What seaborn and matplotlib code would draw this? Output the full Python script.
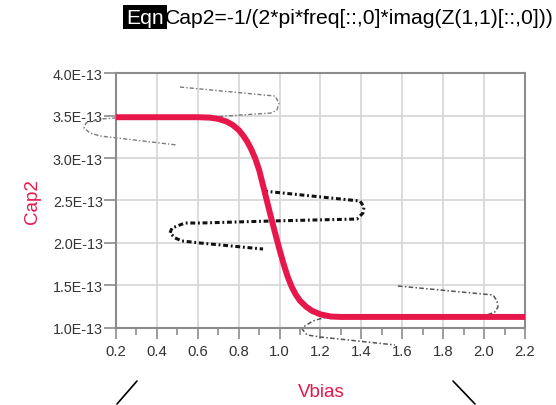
import matplotlib
matplotlib.use("Agg")
import matplotlib.pyplot as plt
from matplotlib.lines import Line2D
from matplotlib.ticker import FixedLocator, FuncFormatter
import numpy as np
import pandas as pd
import seaborn as sns

# ---------------- data (capacitance in units of 1E-13 F) ----------------
vbias = [0.2, 0.3, 0.4, 0.5, 0.6, 0.66, 0.7, 0.74, 0.77, 0.8, 0.82, 0.84,
         0.86, 0.88, 0.9, 0.92, 0.95, 0.98, 1.0, 1.02, 1.04, 1.06, 1.08,
         1.1, 1.13, 1.16, 1.2, 1.25, 1.3, 1.4, 1.6, 1.8, 2.0, 2.2]
cap2 = [3.48, 3.48, 3.48, 3.48, 3.48, 3.475, 3.46, 3.43, 3.39, 3.33, 3.27, 3.20,
        3.11, 3.00, 2.86, 2.67, 2.38, 2.10, 1.92, 1.75, 1.60, 1.48, 1.39,
        1.32, 1.25, 1.20, 1.16, 1.135, 1.13, 1.13, 1.13, 1.13, 1.13, 1.13]

trace_top_x = [0.513, 0.978, 0.997, 0.987, 0.958, 0.660, 0.2, 0.122, 0.053,
               0.044, 0.073, 0.122, 0.498]
trace_top_y = [3.835, 3.729, 3.647, 3.565, 3.529, 3.482, 3.471, 3.459, 3.412,
               3.353, 3.294, 3.259, 3.153]
trace_mid_x = [0.919, 1.393, 1.413, 1.408, 1.378, 0.963, 0.611, 0.537, 0.474,
               0.464, 0.489, 0.523, 0.611, 0.919]
trace_mid_y = [2.612, 2.494, 2.424, 2.353, 2.282, 2.259, 2.235, 2.235, 2.176,
               2.118, 2.059, 2.024, 2.0, 1.929]
trace_bot_x = [1.579, 2.044, 2.063, 2.068, 2.053, 2.014, 1.212, 1.163, 1.124,
               1.110, 1.134, 1.198, 1.564]
trace_bot_y = [1.494, 1.388, 1.318, 1.247, 1.188, 1.153, 1.118, 1.082, 1.024,
               0.988, 0.918, 0.894, 0.8]

x_ticks = [0.2, 0.4, 0.6, 0.8, 1.0, 1.2, 1.4, 1.6, 1.8, 2.0, 2.2]
x_minor = [0.3, 0.5, 0.7, 0.9, 1.1, 1.3, 1.5, 1.7, 1.9, 2.1]
y_ticks = [1.0, 1.5, 2.0, 2.5, 3.0, 3.5, 4.0]
scale = 1e-13

title_tag = "Eqn"
title_text = "Cap2=-1/(2*pi*freq[::,0]*imag(Z(1,1)[::,0]))"
x_label = "Vbias"
y_label = "Cap2"

# ---------------- style ----------------
sns.set_style("white")
plt.rcParams["font.family"] = ["Liberation Sans", "DejaVu Sans"]

RED = "#E8174B"
GRID = "#d6d6d6"
SPINE = "#8c8c8c"
TXT = "#333333"

fig = plt.figure(figsize=(5.56, 4.06), dpi=100)
ax = fig.add_axes([0.2086, 0.1897, 0.7356, 0.628])

main = pd.DataFrame({"Vbias": vbias, "Cap2": np.array(cap2) * scale})
top = pd.DataFrame({"x": trace_top_x, "y": np.array(trace_top_y) * scale})
mid = pd.DataFrame({"x": trace_mid_x, "y": np.array(trace_mid_y) * scale})
bot = pd.DataFrame({"x": trace_bot_x, "y": np.array(trace_bot_y) * scale})

sns.lineplot(data=top, x="x", y="y", sort=False, estimator=None, ax=ax,
             color="#7a7a7a", lw=1.0, linestyle=(0, (3, 1.5, 1, 1.5)),
             clip_on=False, zorder=2)
sns.lineplot(data=bot, x="x", y="y", sort=False, estimator=None, ax=ax,
             color="#555555", lw=1.1, linestyle=(0, (3, 1.5, 1, 1.5)),
             clip_on=False, zorder=2)
sns.lineplot(data=mid, x="x", y="y", sort=False, estimator=None, ax=ax,
             color="#111111", lw=2.2, linestyle=(0, (1.6, 0.9, 0.6, 0.9)),
             clip_on=False, zorder=2)
sns.lineplot(data=main, x="Vbias", y="Cap2", sort=False, estimator=None, ax=ax,
             color=RED, lw=4.3, solid_capstyle="butt", solid_joinstyle="round",
             zorder=3)

ax.set_xlim(0.2, 2.2)
ax.set_ylim(1.0 * scale, 4.0 * scale)

ax.xaxis.set_major_locator(FixedLocator(x_ticks))
ax.xaxis.set_minor_locator(FixedLocator(x_minor))
ax.yaxis.set_major_locator(FixedLocator([v * scale for v in y_ticks]))
ax.xaxis.set_major_formatter(FuncFormatter(lambda v, p: f"{v:.1f}"))
ax.yaxis.set_major_formatter(FuncFormatter(lambda v, p: f"{v / scale:.1f}E-13"))

ax.grid(True, which="major", color=GRID, lw=1.2)
ax.set_axisbelow(True)
for s in ax.spines.values():
    s.set_visible(True)
    s.set_color(SPINE)
    s.set_linewidth(1.5)

ax.tick_params(axis="x", which="major", direction="out", length=8, width=1.2,
               color=SPINE, labelsize=10.7, labelcolor=TXT, pad=3.5, bottom=True)
ax.tick_params(axis="x", which="minor", direction="out", length=5, width=1.2,
               color=SPINE, bottom=True)
ax.tick_params(axis="y", which="major", direction="out", length=8.5, width=1.2,
               color=SPINE, labelsize=10.3, labelcolor=TXT, pad=1, left=True)

ax.set_xlabel(x_label, color=RED, fontsize=13.5)
ax.set_ylabel(y_label, color=RED, fontsize=13.5)
ax.xaxis.label.set_va("center")
ax.yaxis.label.set_va("center")
ax.xaxis.set_label_coords(0.501, -0.251)
ax.yaxis.set_label_coords(-0.205, 0.498)

# equation header
fig.text(126 / 556, 1 - 18 / 406, title_tag, color="white", fontsize=15.2,
         ha="left", va="center",
         bbox=dict(facecolor="black", edgecolor="none", pad=2.2))
fig.text(165 / 556, 1 - 18 / 406, title_text, color="black", fontsize=15.2,
         ha="left", va="center")

# decorative slanted strokes at the bottom edge
fig.add_artist(Line2D([117 / 556, 137 / 556], [1 - 405 / 406, 1 - 382 / 406],
                      color="black", lw=1.2))
fig.add_artist(Line2D([453 / 556, 475 / 556], [1 - 382 / 406, 1 - 405 / 406],
                      color="black", lw=1.2))

fig.savefig("out.png", dpi=100)
